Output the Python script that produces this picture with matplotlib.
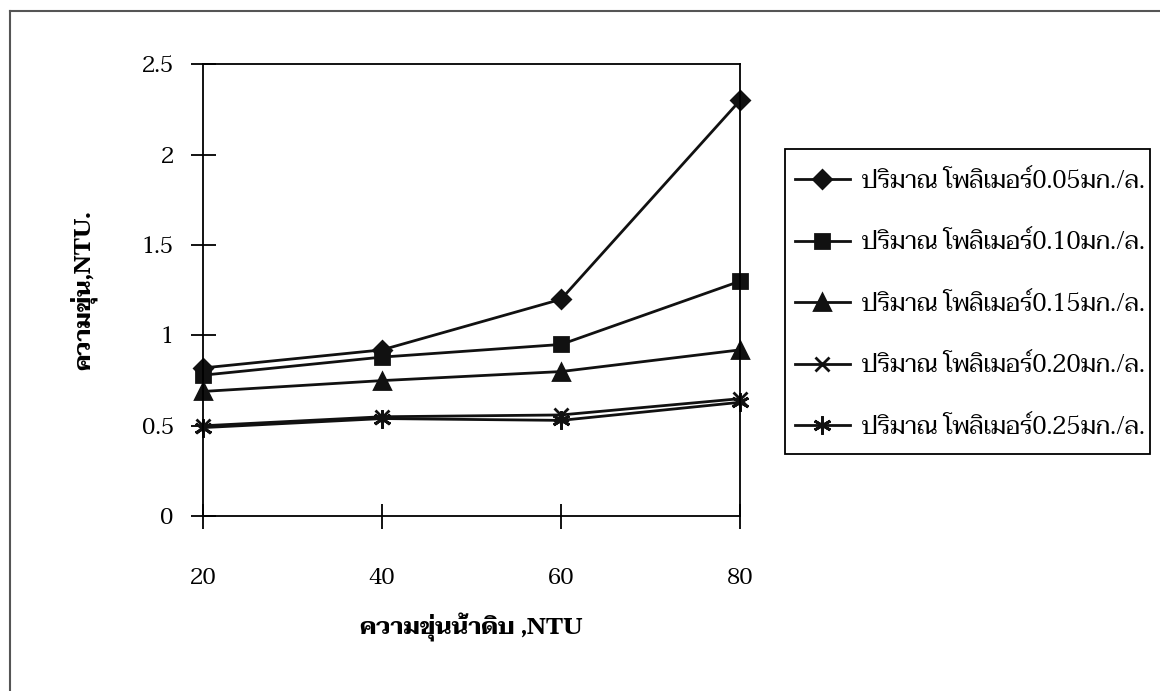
import matplotlib
matplotlib.use("Agg")
import matplotlib.pyplot as plt
from matplotlib.lines import Line2D
from matplotlib.patches import Rectangle

# Thai serif first, then a Times-like fallback
plt.rcParams['font.family'] = ['Norasi', 'Taviraj', 'Liberation Serif', 'DejaVu Serif']

raw_turbidity = [20, 40, 60, 80]
polymer_labels = [
    "ปริมาณ โพลิเมอร์0.05มก./ล.",
    "ปริมาณ โพลิเมอร์0.10มก./ล.",
    "ปริมาณ โพลิเมอร์0.15มก./ล.",
    "ปริมาณ โพลิเมอร์0.20มก./ล.",
    "ปริมาณ โพลิเมอร์0.25มก./ล.",
]
turb_005 = [0.82, 0.92, 1.20, 2.30]
turb_010 = [0.78, 0.88, 0.95, 1.30]
turb_015 = [0.69, 0.75, 0.80, 0.92]
turb_020 = [0.50, 0.55, 0.56, 0.65]
turb_025 = [0.49, 0.54, 0.53, 0.63]
series = [turb_005, turb_010, turb_015, turb_020, turb_025]

markers = ['D', 's', '^', 'x', (6, 2, 0)]
msizes = [9, 10, 11, 10, 13]

fig = plt.figure(figsize=(11.6, 6.91), dpi=100)
ax = fig.add_axes([0.175, 0.253, 0.463, 0.654])

for vals, lab, m, ms in zip(series, polymer_labels, markers, msizes):
    ax.plot(raw_turbidity, vals, color='#111111', lw=2.0, marker=m, ms=ms,
            mew=2.0, label=lab, clip_on=False)

ax.set_xlim(20, 80)
ax.set_ylim(0, 2.5)
ax.set_xticks(raw_turbidity)
ax.set_yticks([0, 0.5, 1, 1.5, 2, 2.5])
ax.set_yticklabels(['0', '0.5', '1', '1.5', '2', '2.5'])
ax.tick_params(axis='both', direction='inout', length=18, width=1.3,
               labelsize=16.5)
ax.tick_params(axis='x', pad=28)
ax.tick_params(axis='y', pad=12)
for s in ax.spines.values():
    s.set_linewidth(1.3)

ax.set_xlabel("ความขุ่นน้ำดิบ ,NTU", fontsize=17, fontweight='bold', va='center')
ax.xaxis.set_label_coords(0.406, 1 - 627 / 691, transform=fig.transFigure)
ax.set_ylabel("ความขุ่น,NTU.", fontsize=17, fontweight='bold', va='center')
ax.yaxis.set_label_coords(83 / 1160, 0.58, transform=fig.transFigure)

# legend entries without their own frame; box drawn separately
leg = ax.legend(loc='upper left', bbox_to_anchor=(795 / 1160, 1 - 170 / 691),
                bbox_transform=fig.transFigure, fontsize=17.5, frameon=False,
                handlelength=2.26, handletextpad=0.5, labelspacing=1.54,
                borderpad=0, borderaxespad=0)
fig.add_artist(Rectangle((785 / 1160, 1 - 454 / 691), 365 / 1160, 305 / 691,
                         transform=fig.transFigure, fill=False,
                         edgecolor='black', lw=1.3))

# outer chart frame (clipped at right and bottom in the original)
fig.add_artist(Line2D([0.009, 1.0], [0.984, 0.984], color='#555555', lw=1.5,
                      transform=fig.transFigure))
fig.add_artist(Line2D([0.009, 0.009], [0.0, 0.984], color='#555555', lw=1.5,
                      transform=fig.transFigure))

fig.savefig("out.png", dpi=100)
